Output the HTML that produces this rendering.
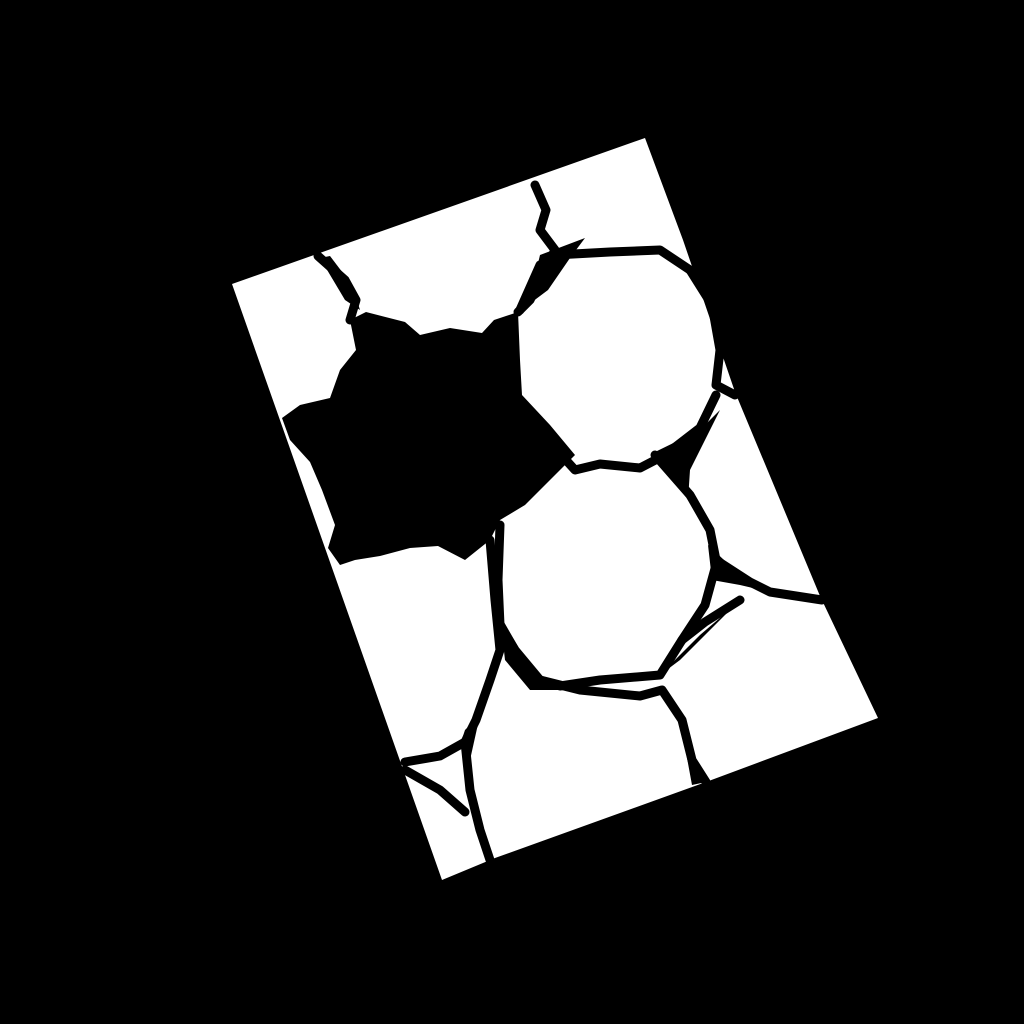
<!DOCTYPE html>
<html><head><meta charset="utf-8"><style>
html,body{margin:0;padding:0;background:#000;width:1024px;height:1024px;overflow:hidden}
</style></head><body>
<svg width="1024" height="1024" viewBox="0 0 1024 1024" xmlns="http://www.w3.org/2000/svg">
<rect width="1024" height="1024" fill="#000"/>
<polygon fill="#fff" points="232,284 645,138 683,240 735,392 820,596 878,718 706,782 495,858 442,880"/>
<polygon fill="#000" points="282,418 300,405 330,398 340,370 356,350 350,320 366,312 405,322 420,335 450,328 482,333 494,320 518,312 520,360 522,395 550,425 575,455 552,478 525,505 500,520 490,540 465,560 438,546 410,548 380,556 355,560 340,565 328,548 335,525 322,490 310,462 290,440"/>
<g fill="#000">
<polygon points="540,255 585,238 570,258 548,290 528,305"/>
<polygon points="655,452 700,430 720,410 690,470 688,500"/>
<polygon points="708,545 740,575 770,592 740,585 712,580"/>
<polygon points="500,615 520,650 545,680 560,690 530,690 505,660"/>
<polygon points="660,675 700,635 735,605 700,640 680,660"/>
<polygon points="465,730 480,715 470,760 460,745"/>
<polygon points="320,258 330,256 352,285 360,310 345,300"/>
<polygon points="680,720 700,770 706,782 692,785"/>
</g>
<g fill="none" stroke="#000" stroke-width="9" stroke-linejoin="round" stroke-linecap="round">
<polyline points="535,185 546,210 540,230 555,250 545,270 530,300 518,312"/>
<polyline points="318,256 345,280 356,300 350,320"/>
<polyline points="555,255 610,252 660,250 690,270"/>
<polyline points="540,265 520,310"/>
<polyline points="690,270 712,305 720,350 716,385 735,395"/>
<polyline points="716,395 700,428 665,455 640,468 600,464 575,470 555,448"/>
<polyline points="655,455 690,495 710,530 716,560 750,582 770,592 822,600"/>
<polyline points="716,565 705,605 682,640 660,675 600,680 560,686 540,680 515,650 500,625 498,580 500,525"/>
<polyline points="490,540 495,600 500,650 490,680 476,720 465,742 440,756 405,762"/>
<polyline points="540,680 580,690 640,696 662,690 682,720 692,760 706,782"/>
<polyline points="682,640 705,622 740,600"/>
<polyline points="465,742 470,790 480,830 490,860"/>
<polyline points="405,770 440,790 465,812"/>
</g>
</svg>
</body></html>
